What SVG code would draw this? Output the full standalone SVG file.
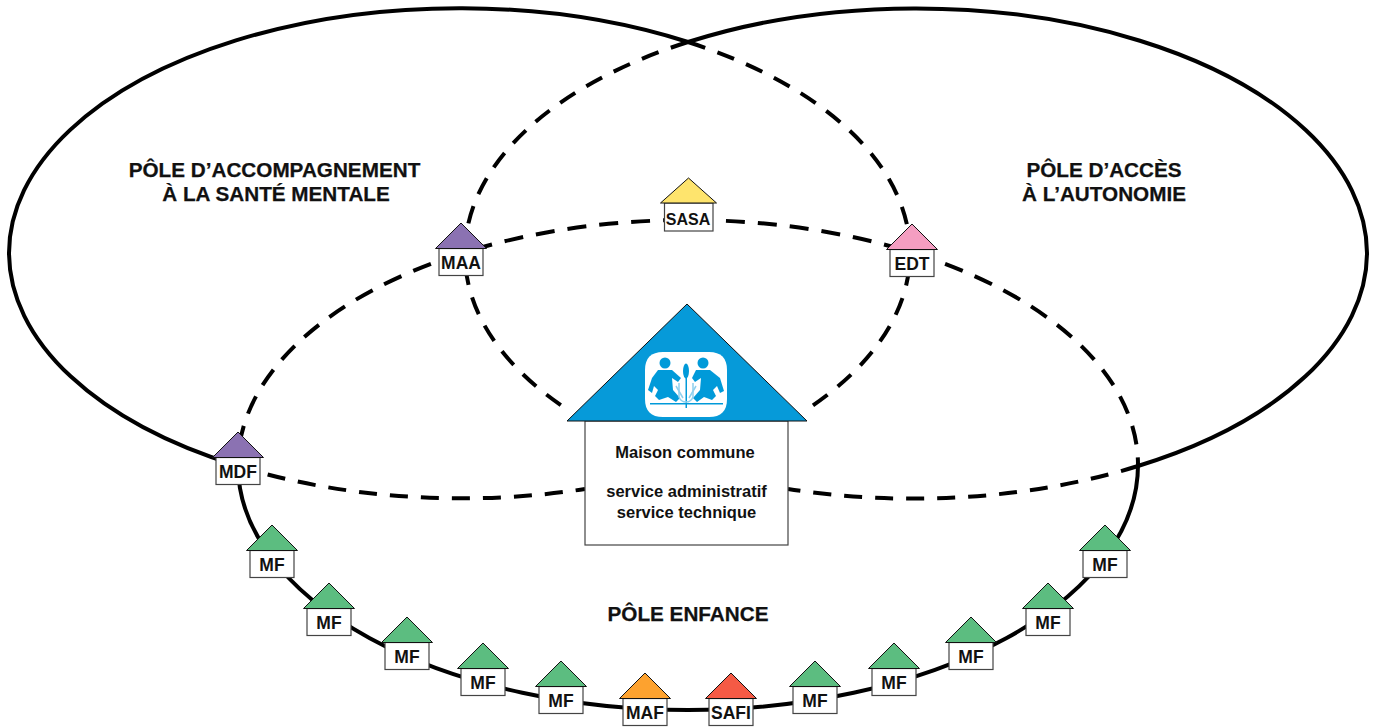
<svg xmlns="http://www.w3.org/2000/svg" width="1378" height="727" viewBox="0 0 1378 727">
<style>
text{font-family:"Liberation Sans",Arial,sans-serif;font-weight:700;fill:#111;text-anchor:middle}
.t{font-size:20.700px;stroke:#111;stroke-width:.25}
.m{font-size:16.500px}.l{font-size:17.500px}
.s{fill:none;stroke:#000;stroke-width:4}
.d{fill:none;stroke:#000;stroke-width:4;stroke-dasharray:18 13}
.h{stroke-dasharray:19 13;stroke-dashoffset:26}
.r{stroke:#111;stroke-width:1}
.b{fill:#fff;stroke:#444;stroke-width:1.2}
.g{fill:#5cbd80}.p{fill:#8b72b2}.o{fill:#fda22f}.e{fill:#f55a45}.y{fill:#fee46d}.k{fill:#f49ec1}
</style>
<defs>
<path id="roof" d="M0 0L25.500 25.500H-25.500Z"/>
<rect id="body" x="-22" y="25.500" width="44" height="27"/>
<filter id="soft" x="-5%" y="-5%" width="110%" height="110%"><feGaussianBlur stdDeviation="0.7"/></filter>
</defs>
<g id="connectors">
<path class="s" d="M238 466A450.500 245 0 0 1 9 253A450.500 245 0 0 1 688 42"/>
<path class="d" d="M688 42A450.500 245 0 0 1 910 253A450.500 245 0 0 1 806 410"/>
<path class="s" d="M1138 466A451 245 0 0 0 1367 253A451 245 0 0 0 688 42"/>
<path class="d" d="M688 42A451 245 0 0 0 465 253A451 245 0 0 0 568 410"/>
<path class="d h" d="M688 220A450 245 0 0 0 238 465"/>
<path class="d h" d="M688 220A450 245 0 0 1 1138 465"/>
<path class="d" d="M238 466A450.500 245 0 0 0 585 489"/>
<path class="d" d="M1138 466A451 245 0 0 1 788 489"/>
<path class="s" d="M238 465A450 245 0 0 0 688 710A450 245 0 0 0 1138 465"/>
</g>
<g id="pole-titles">
<text class="t" x="274.500" y="177">PÔLE D’ACCOMPAGNEMENT</text>
<text class="t" x="276" y="201">À LA SANTÉ MENTALE</text>
<text class="t" x="1104" y="177">PÔLE D’ACCÈS</text>
<text class="t" x="1104" y="201">À L’AUTONOMIE</text>
<text class="t" x="688" y="621">PÔLE ENFANCE</text>
</g>
<g id="maison-commune">
<rect x="585" y="421" width="203" height="124" fill="#fff" stroke="#444" stroke-width="1.2"/>
<path d="M687 304L807 421H567Z" fill="#069ad9" stroke="#111" stroke-width="1"/>
<g filter="url(#soft)">
<path d="M663 352H709C721 352 727 358 727 370V399C727 411 721 417 709 417H663C651 417 645 411 645 399V370C645 358 651 352 663 352Z" fill="#fff"/>
<g fill="#069ad9">
<circle cx="665" cy="363" r="5.500"/>
<path d="M658 370H672L681 378L678 382L672 378L673 390L680 398L676 402L668 397L659 400L655 396L658 390L654 386L652 393L648 390L652 378Z"/>
<circle cx="703" cy="363" r="5.500"/>
<path d="M696 370H710L720 378L724 391L720 393L717 386L713 390L716 396L712 400L704 397L697 402L693 398L700 390L701 378L695 382L692 378Z"/>
<ellipse cx="686" cy="371" rx="3" ry="7.500"/>
<rect x="685.500" y="378" width="1.500" height="30"/>
<rect x="650" y="403" width="73" height="1.500"/>
</g>
<g fill="none" stroke="#8fd0ee" stroke-width="1.500">
<path d="M679 383V397Q681 402 686 402Q691 402 693 397V383"/>
<path d="M683 398L676 386M689 398L696 386"/>
</g>
</g>
<text class="m" x="685" y="458">Maison commune</text>
<text class="m" x="686.500" y="497">service administratif</text>
<text class="m" x="686.500" y="518">service technique</text>
</g>
<g id="maa" transform="translate(461 223)"><use href="#body" class="b"/><use href="#roof" class="r p"/><text class="l" y="46">MAA</text></g>
<g id="sasa">
<rect class="b" x="664.500" y="203" width="48.500" height="28"/>
<path class="r y" d="M688.500 178L716.500 203H660.500Z"/>
<text x="688" y="225" font-size="16">SASA</text>
</g>
<g id="edt" transform="translate(912 224)"><use href="#body" class="b"/><use href="#roof" class="r k"/><text class="l" y="46">EDT</text></g>
<g id="mdf" transform="translate(238 432)"><use href="#body" class="b"/><use href="#roof" class="r p"/><text class="l" y="46">MDF</text></g>
<g id="mf1" transform="translate(272 525)"><use href="#body" class="b"/><use href="#roof" class="r g"/><text class="l" y="46">MF</text></g>
<g id="mf2" transform="translate(329 583)"><use href="#body" class="b"/><use href="#roof" class="r g"/><text class="l" y="46">MF</text></g>
<g id="mf3" transform="translate(407 617)"><use href="#body" class="b"/><use href="#roof" class="r g"/><text class="l" y="46">MF</text></g>
<g id="mf4" transform="translate(483 643)"><use href="#body" class="b"/><use href="#roof" class="r g"/><text class="l" y="46">MF</text></g>
<g id="mf5" transform="translate(561 661)"><use href="#body" class="b"/><use href="#roof" class="r g"/><text class="l" y="46">MF</text></g>
<g id="maf" transform="translate(645 673)"><use href="#body" class="b"/><use href="#roof" class="r o"/><text class="l" y="46">MAF</text></g>
<g id="safi" transform="translate(731 673)"><use href="#body" class="b"/><use href="#roof" class="r e"/><text class="l" y="46">SAFI</text></g>
<g id="mf6" transform="translate(815 661)"><use href="#body" class="b"/><use href="#roof" class="r g"/><text class="l" y="46">MF</text></g>
<g id="mf7" transform="translate(894 643)"><use href="#body" class="b"/><use href="#roof" class="r g"/><text class="l" y="46">MF</text></g>
<g id="mf8" transform="translate(971 617)"><use href="#body" class="b"/><use href="#roof" class="r g"/><text class="l" y="46">MF</text></g>
<g id="mf9" transform="translate(1048 583)"><use href="#body" class="b"/><use href="#roof" class="r g"/><text class="l" y="46">MF</text></g>
<g id="mf10" transform="translate(1105 525)"><use href="#body" class="b"/><use href="#roof" class="r g"/><text class="l" y="46">MF</text></g>
</svg>
